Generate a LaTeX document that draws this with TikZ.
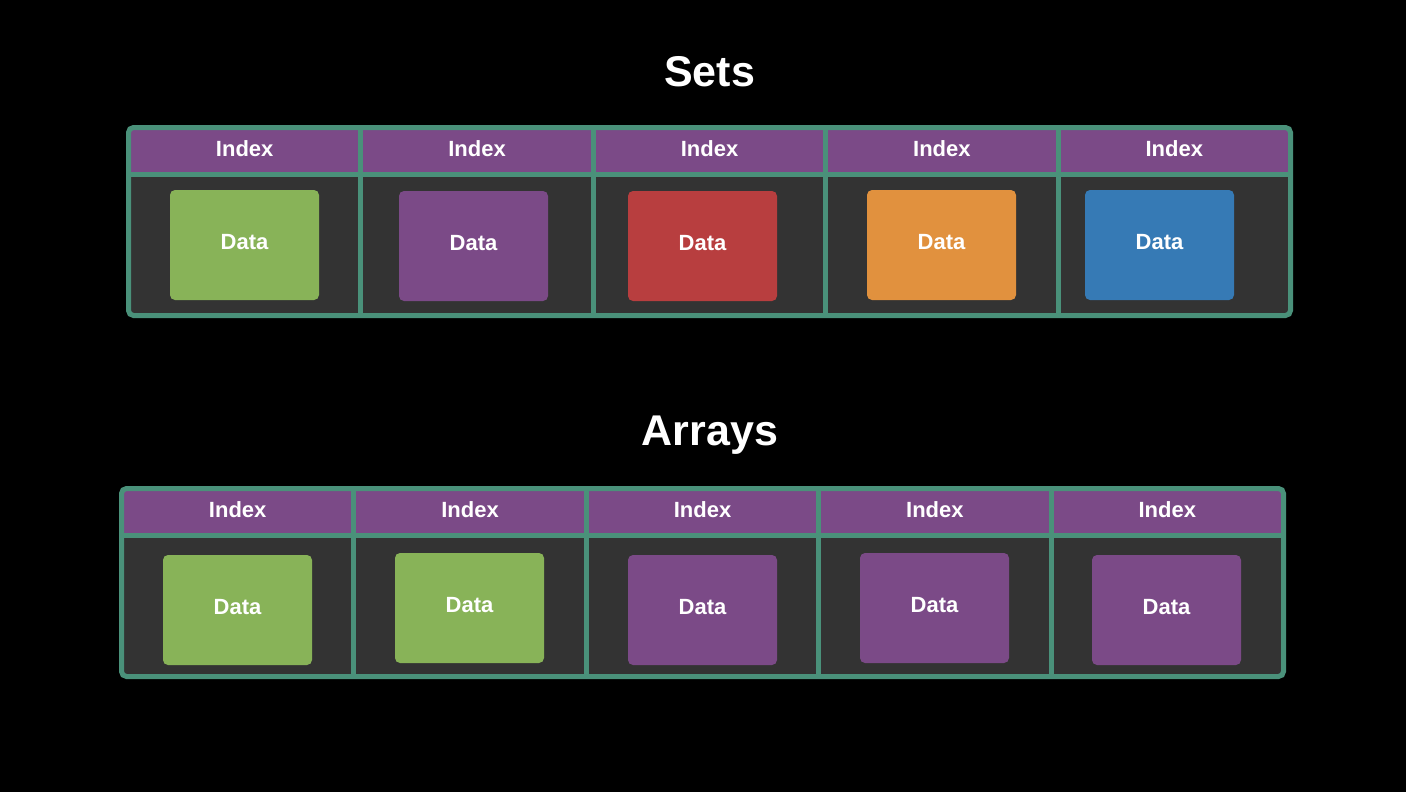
\documentclass[tikz,border=0pt]{standalone}
\usepackage{fontspec}
\setmainfont{Liberation Sans}
\definecolor{bordergreen}{HTML}{4A917A}
\definecolor{hdrpurple}{HTML}{7B4A87}
\definecolor{cellgray}{HTML}{333333}
\definecolor{dgreen}{HTML}{88B358}
\definecolor{dpurple}{HTML}{7B4A87}
\definecolor{dred}{HTML}{B83E3F}
\definecolor{dorange}{HTML}{E1913E}
\definecolor{dblue}{HTML}{367AB5}
\tikzset{
  title/.style={text=white,font=\fontsize{43}{48}\selectfont\bfseries,anchor=base,inner sep=0pt},
  hdrcell/.style={fill=hdrpurple,draw=none,minimum width=232.4pt,minimum height=47pt,inner sep=0pt,
    text=white,font=\fontsize{22}{26}\selectfont\bfseries,text height=16pt,text depth=5pt},
  databox/.style={draw=none,rounded corners=5pt,minimum width=149pt,minimum height=110pt,inner sep=0pt,
    text=white,font=\fontsize{22}{26}\selectfont\bfseries,text height=16pt,text depth=7pt},
  frame/.style={draw=bordergreen,line width=5pt,rounded corners=5pt},
  gridline/.style={draw=bordergreen,line width=5pt}
}
\begin{document}
\begin{tikzpicture}[x=1pt,y=-1pt]
\fill[black] (0,0) rectangle (1406,792);
\useasboundingbox (0,0) rectangle (1406,792);

% ---------- Sets ----------
\node[title] (tsets) at (709.5,86) {Sets};
\fill[cellgray,rounded corners=5pt] (128.5,127.5) rectangle (1290.5,315.5);
\foreach \i in {0,...,4}{
  \node[hdrcell] (sh\i) at ({128.5+232.4*(\i+0.5)},151) {Index};
}
\draw[gridline] (128.5,174.5) -- (1290.5,174.5);
\foreach \i in {1,...,4}{
  \draw[gridline] ({128.5+232.4*\i},127.5) -- ({128.5+232.4*\i},315.5);
}
\draw[frame] (128.5,127.5) rectangle (1290.5,315.5);
\node[databox,fill=dgreen]  (sd0) at (244.5,245) {Data};
\node[databox,fill=dpurple] (sd1) at (473.5,246) {Data};
\node[databox,fill=dred]    (sd2) at (702.5,246) {Data};
\node[databox,fill=dorange] (sd3) at (941.5,245) {Data};
\node[databox,fill=dblue]   (sd4) at (1159.5,245) {Data};

% ---------- Arrays ----------
\node[title] (tarrays) at (710,445) {Arrays};
\fill[cellgray,rounded corners=5pt] (121.5,488.5) rectangle (1283.5,676.5);
\foreach \i in {0,...,4}{
  \node[hdrcell] (ah\i) at ({121.5+232.4*(\i+0.5)},512) {Index};
}
\draw[gridline] (121.5,535.5) -- (1283.5,535.5);
\foreach \i in {1,...,4}{
  \draw[gridline] ({121.5+232.4*\i},488.5) -- ({121.5+232.4*\i},676.5);
}
\draw[frame] (121.5,488.5) rectangle (1283.5,676.5);
\node[databox,fill=dgreen]  (ad0) at (237.5,610) {Data};
\node[databox,fill=dgreen]  (ad1) at (469.5,608) {Data};
\node[databox,fill=dpurple] (ad2) at (702.5,610) {Data};
\node[databox,fill=dpurple] (ad3) at (934.5,608) {Data};
\node[databox,fill=dpurple] (ad4) at (1166.5,610) {Data};
\end{tikzpicture}
\end{document}
